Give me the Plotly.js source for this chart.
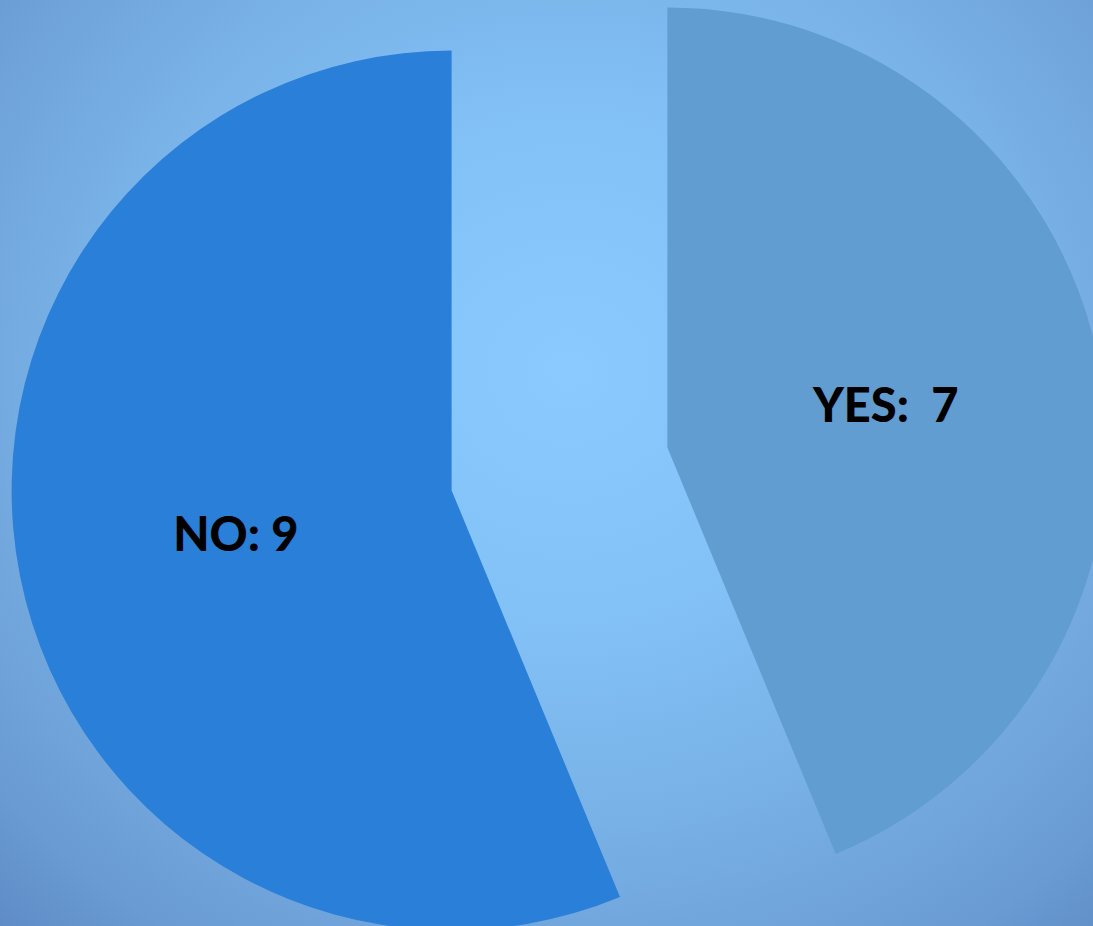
<!DOCTYPE html>
<html>
<head>
<meta charset="utf-8">
<script src="https://cdn.plot.ly/plotly-3.0.1.min.js"></script>
<style>
  html, body { margin: 0; padding: 0; width: 1093px; height: 926px; overflow: hidden; }
  body {
    background: radial-gradient(ellipse 78% 85% at 52% 40%, #8ACAFE 0%, #83C2F7 30%, #78B1E6 58%, #6A9BD3 85%, #5C88C3 100%);
    position: relative;
  }
  #chart { position: absolute; left: 0; top: -81px; width: 1119px; height: 1100px; }
</style>
</head>
<body>
<div id="chart"></div>
<script>
const categories = ["YES", "NO"];
const counts = [7, 9];
const labelFormats = ["%{label}:\u00a0 %{value}", "%{label}: %{value}"];
const sliceColors = ["#629DD1", "#2A7FD8"];

const trace = {
  type: "pie",
  labels: categories,
  values: counts,
  sort: false,
  direction: "clockwise",
  rotation: 0,
  pull: [0.25, 0.25],
  marker: { colors: sliceColors, line: { width: 0 } },
  texttemplate: labelFormats,
  textinfo: "text",
  textposition: "inside",
  insidetextorientation: "horizontal",
  insidetextfont: { family: "Lato, 'Open Sans', sans-serif", size: 47, color: "#000000", weight: 900 },
  hoverinfo: "none",
  showlegend: false
};

const layout = {
  margin: { l: 0, r: 0, t: 0, b: 0, pad: 0 },
  paper_bgcolor: "rgba(0,0,0,0)",
  plot_bgcolor: "rgba(0,0,0,0)",
  showlegend: false
};

Plotly.newPlot("chart", [trace], layout, { displayModeBar: false, staticPlot: true });
</script>
</body>
</html>
